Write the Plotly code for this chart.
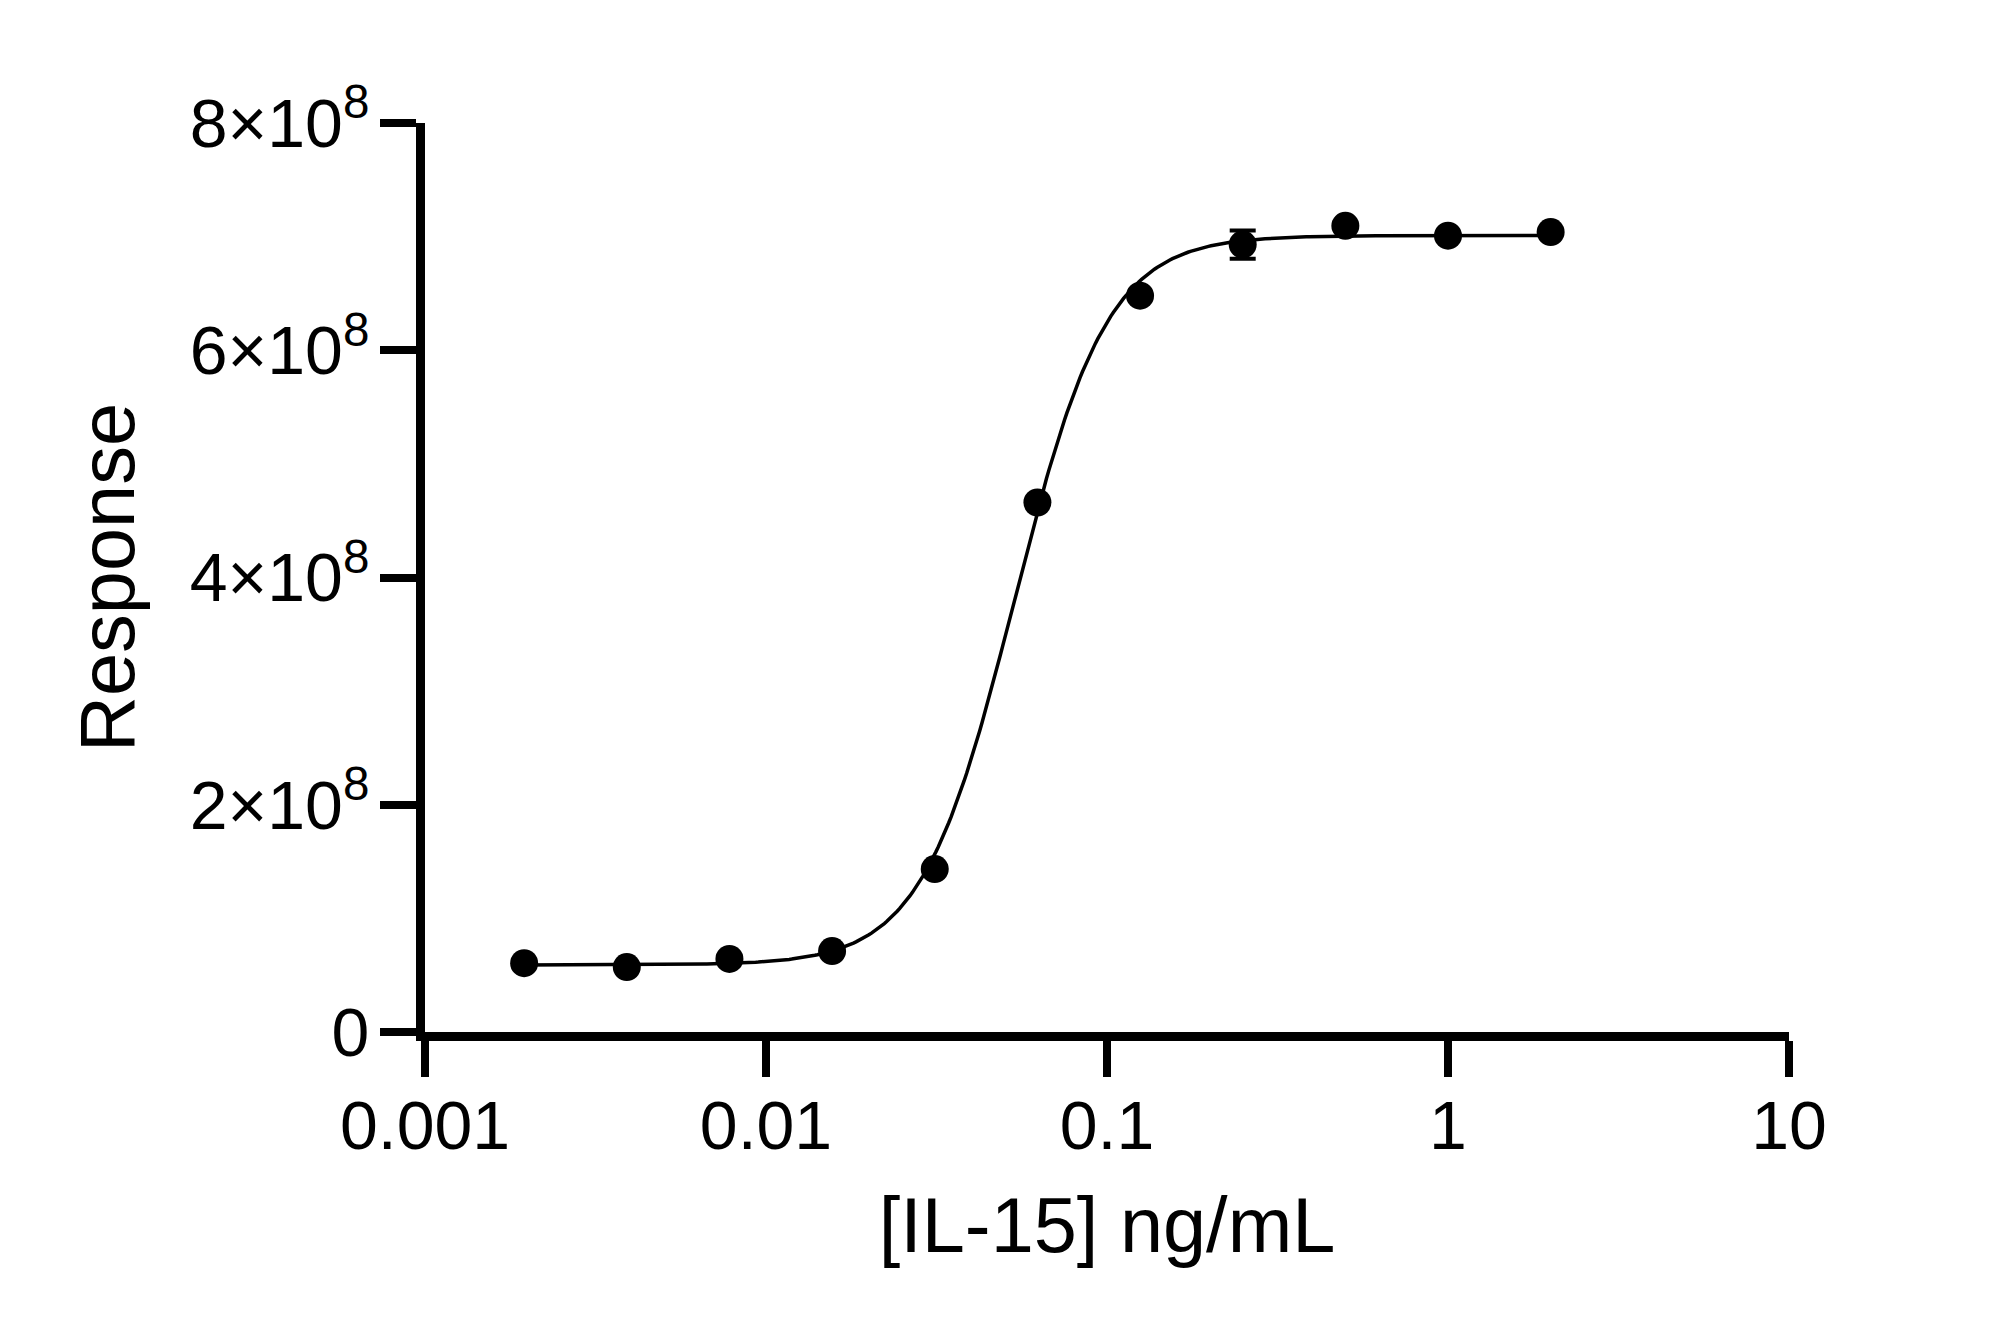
import numpy as np
import plotly.graph_objects as go

# Data
conc = [0.001953125, 0.00390625, 0.0078125, 0.015625, 0.03125, 0.0625,
        0.125, 0.25, 0.5, 1.0, 2.0]
response = [0.606e8, 0.571e8, 0.643e8, 0.712e8, 1.434e8, 4.66e8,
            6.48e8, 6.93e8, 7.095e8, 7.008e8, 7.04e8]
response_err = [0, 0, 0, 0, 0, 0, 0, 0.125e8, 0, 0, 0]

# Four-parameter logistic fit parameters (estimated from the drawn curve)
fit_bottom = 0.59e8
fit_top = 7.01e8
fit_ec50 = 0.0535
fit_hill = 3.2

x_tickvals = [0.001, 0.01, 0.1, 1, 10]
x_ticktext = ["0.001", "0.01", "0.1", "1", "10"]
y_tickvals = [0, 2e8, 4e8, 6e8, 8e8]
y_ticktext = ["0", "2×10<sup>8</sup>", "4×10<sup>8</sup>", "6×10<sup>8</sup>", "8×10<sup>8</sup>"]

xfit = np.logspace(np.log10(conc[0]), np.log10(conc[-1]), 400)
yfit = fit_bottom + (fit_top - fit_bottom) / (1 + (fit_ec50 / xfit) ** fit_hill)

FONT = "Liberation Sans, Arial, sans-serif"

fig = go.Figure()
fig.add_trace(go.Scatter(x=xfit, y=yfit, mode="lines",
                         line=dict(color="black", width=3.5),
                         hoverinfo="skip", showlegend=False))
fig.add_trace(go.Scatter(x=conc, y=response, mode="markers",
                         marker=dict(color="black", size=28, symbol="circle"),
                         error_y=dict(type="data", array=response_err, visible=True,
                                      color="black", thickness=4, width=13),
                         cliponaxis=False, showlegend=False))

fig.update_layout(
    width=2000, height=1341,
    margin=dict(l=417, r=219, t=115, b=317, autoexpand=False),
    paper_bgcolor="white", plot_bgcolor="white",
    font=dict(family=FONT, color="black"),
    xaxis=dict(type="log", range=[-3, 1], tickvals=x_tickvals, ticktext=x_ticktext,
               showline=True, linecolor="black", linewidth=9,
               ticks="outside", ticklen=36, tickwidth=8, tickcolor="black",
               tickfont=dict(size=68, family=FONT, color="black"),
               ticklabelstandoff=-10,
               showgrid=False, zeroline=False,
               title=dict(text="[IL-15] ng/mL", font=dict(size=77.5, family=FONT, color="black"),
                          standoff=40)),
    yaxis=dict(range=[0, 8e8], tickvals=y_tickvals, ticktext=y_ticktext,
               showline=True, linecolor="black", linewidth=9,
               ticks="outside", ticklen=36, tickwidth=8, tickcolor="black",
               tickfont=dict(size=68, family=FONT, color="black"),
               ticklabelstandoff=-3,
               showgrid=False, zeroline=False,
               title=dict(text="Response", font=dict(size=77.5, family=FONT, color="black"),
                          standoff=33)),
)

fig.write_html("out.html")
